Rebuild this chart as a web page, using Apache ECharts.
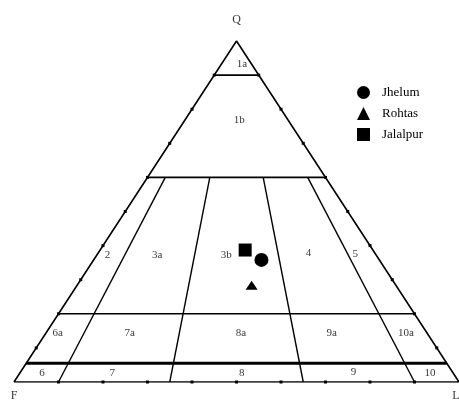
<!DOCTYPE html>
<html>
<head>
<meta charset="utf-8">
<script src="https://cdn.jsdelivr.net/npm/echarts@6/dist/echarts.min.js"></script>
<style>
  html, body { margin: 0; background: #fff; }
  #chart { width: 459px; height: 403px; }
</style>
</head>
<body>
<div id="chart"></div>
<script>
// Q fraction of the horizontal field boundaries
const qLevels = [0.9, 0.6, 0.2, 0.055]
// L/(F+L) of the boundaries that run down from the Q pole
const splitRatios = [0.1, 0.35, 0.65, 0.9]
const tickSteps = [0.1, 0.2, 0.3, 0.4, 0.5, 0.6, 0.7, 0.8, 0.9]

const seriesNames = ['Jhelum', 'Rohtas', 'Jalalpur']
// sample compositions, [Q, F, L] in percent
const jhelum = [[35.8, 26.5, 37.7]]
const rohtas = [[28.4, 32.4, 39.2]]
const jalalpur = [[38.7, 28.7, 32.6]]

const regionNames = ['1a', '1b', '2', '3a', '3b', '4', '5',
  '6a', '7a', '8a', '9a', '10a', '6', '7', '8', '9', '10']
const regionSpots = [
  [0.512, 0.933], [0.506, 0.768],
  [0.210, 0.372], [0.322, 0.372], [0.477, 0.372], [0.662, 0.378], [0.767, 0.375],
  [0.098, 0.144], [0.260, 0.144], [0.510, 0.144], [0.714, 0.144], [0.881, 0.144],
  [0.063, 0.026], [0.221, 0.026], [0.512, 0.026], [0.763, 0.029], [0.935, 0.026],
]

// ternary -> plain x/y on a 0..1 grid
function toXY(q, f, l) {
  const s = q + f + l
  return [(l + q / 2) / s, q / s]
}
function onSplit(q, r) {
  return [(1 - q) * r + q / 2, q]
}

const FONT = 'Liberation Serif'

function seg(points, width) {
  return {
    type: 'line', data: points, symbol: 'none', silent: true,
    lineStyle: { color: '#000', width: width || 1.4 }, z: 2,
  }
}

const series = []
series.push(seg([[0, 0], [0.5, 1], [1, 0], [0, 0]], 1.6))
qLevels.forEach((q, i) => {
  series.push(seg([[q / 2, q], [1 - q / 2, q]], i === qLevels.length - 1 ? 3 : 1.6))
})
splitRatios.forEach(r => {
  series.push(seg([onSplit(0.6, r), onSplit(0, r)], 1.4))
})

const ticks = []
tickSteps.forEach(t => {
  ticks.push([t / 2, t], [1 - t / 2, t], [t, 0])
})
series.push({
  type: 'scatter', data: ticks, symbol: 'rect', symbolSize: 3, silent: true,
  itemStyle: { color: '#000', opacity: 1 }, z: 3,
})

series.push({
  type: 'scatter', silent: true, symbolSize: 0, z: 4,
  data: regionNames.map((n, i) => ({ name: n, value: regionSpots[i] })),
  label: { show: true, formatter: '{b}', color: '#000', fontFamily: FONT, fontSize: 11 },
})
series.push({
  type: 'scatter', silent: true, symbolSize: 0, z: 4,
  data: [
    { name: 'Q', value: [0.5, 1], label: { offset: [0, -21] } },
    { name: 'F', value: [0, 0], label: { offset: [0, 14] } },
    { name: 'L', value: [1, 0], label: { offset: [-3, 14] } },
  ],
  label: { show: true, formatter: '{b}', color: '#000', fontFamily: FONT, fontSize: 12 },
})

const samples = [jhelum, rohtas, jalalpur]
const symbols = ['circle', 'triangle', 'rect']
const sizes = [14, [12, 9], 13]
samples.forEach((rows, i) => {
  series.push({
    type: 'scatter', name: seriesNames[i], symbol: symbols[i], symbolSize: sizes[i],
    data: rows.map(r => toXY(r[0], r[1], r[2])),
    itemStyle: { color: '#000', opacity: 1 }, z: 5,
  })
})

const chart = echarts.init(document.getElementById('chart'))
chart.setOption({
  backgroundColor: '#fff',
  animation: false,
  grid: { left: 14, top: 41, width: 447, height: 341 },
  xAxis: { type: 'value', min: 0, max: 1, show: false },
  yAxis: { type: 'value', min: 0, max: 1, show: false },
  legend: {
    orient: 'vertical', left: 352, top: 81,
    itemWidth: 13, itemHeight: 13, itemGap: 8,
    data: seriesNames.map((n, i) => ({ name: n, icon: symbols[i], itemStyle: { color: '#000', opacity: 1 } })),
    textStyle: { color: '#000', fontFamily: FONT, fontSize: 13, padding: [0, 0, 0, 7] },
  },
  series,
})
</script>
</body>
</html>
